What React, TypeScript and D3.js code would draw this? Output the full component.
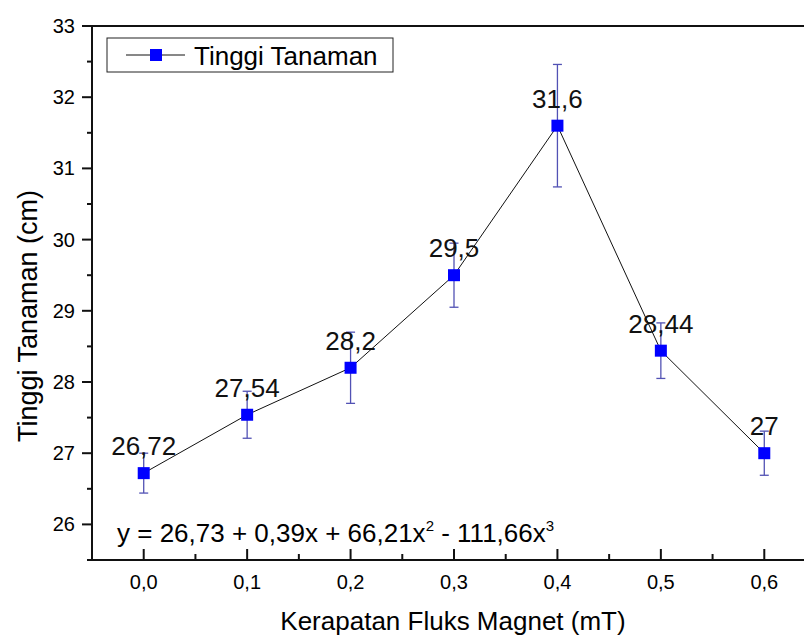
import React, { useEffect, useRef } from 'react'
import * as d3 from 'd3'

// data
const fluks = [0.0, 0.1, 0.2, 0.3, 0.4, 0.5, 0.6]
const tinggi = [26.72, 27.54, 28.2, 29.5, 31.6, 28.44, 27]
const galat = [0.28, 0.33, 0.5, 0.45, 0.86, 0.39, 0.31]
const labels = ['26,72', '27,54', '28,2', '29,5', '31,6', '28,44', '27']
const xTicks = [0, 0.1, 0.2, 0.3, 0.4, 0.5, 0.6]
const yTicks = [26, 27, 28, 29, 30, 31, 32, 33]

const W = 804
const H = 637
const font = 'Arial, "Liberation Sans", sans-serif'

export default function App() {
  const ref = useRef<SVGSVGElement>(null)

  useEffect(() => {
    const svg = d3.select(ref.current)
    svg.selectAll('*').remove()

    const x = d3.scaleLinear().domain([-0.05, 0.65]).range([92, 816])
    const y = d3.scaleLinear().domain([25.5, 33]).range([560, 26])

    const g = svg.append('g')

    // frame
    g.append('rect')
      .attr('x', x(-0.05)).attr('y', y(33))
      .attr('width', x(0.65) - x(-0.05)).attr('height', y(25.5) - y(33))
      .attr('fill', 'none').attr('stroke', '#111').attr('stroke-width', 2)

    // y ticks (outward)
    const yMinor = d3.range(25.5, 33, 0.5).filter(v => !yTicks.includes(v))
    g.selectAll('.ymaj').data(yTicks).enter().append('line')
      .attr('x1', 82).attr('x2', x(-0.05))
      .attr('y1', d => y(d)).attr('y2', d => y(d))
      .attr('stroke', '#111').attr('stroke-width', 2)
    g.selectAll('.ymin').data(yMinor).enter().append('line')
      .attr('x1', 87).attr('x2', x(-0.05))
      .attr('y1', d => y(d)).attr('y2', d => y(d))
      .attr('stroke', '#111').attr('stroke-width', 2)
    g.selectAll('.ylab').data(yTicks).enter().append('text')
      .attr('x', 75).attr('y', d => y(d) + 7)
      .attr('text-anchor', 'end')
      .attr('font-family', font).attr('font-size', 20)
      .text(d => String(d))

    // x ticks (inward)
    const xMinor = d3.range(0, 7).map(i => 0.05 + i * 0.1)
    g.selectAll('.xmaj').data(xTicks).enter().append('line')
      .attr('x1', d => x(d)).attr('x2', d => x(d))
      .attr('y1', 560).attr('y2', 549)
      .attr('stroke', '#111').attr('stroke-width', 2)
    g.selectAll('.xmin').data(xMinor).enter().append('line')
      .attr('x1', d => x(d)).attr('x2', d => x(d))
      .attr('y1', 560).attr('y2', 554)
      .attr('stroke', '#111').attr('stroke-width', 2)
    g.selectAll('.xlab').data(xTicks).enter().append('text')
      .attr('x', d => x(d)).attr('y', 589)
      .attr('text-anchor', 'middle')
      .attr('font-family', font).attr('font-size', 20)
      .text(d => d.toFixed(1).replace('.', ','))

    // axis titles
    g.append('text')
      .attr('x', 453).attr('y', 630)
      .attr('text-anchor', 'middle')
      .attr('font-family', font).attr('font-size', 26)
      .text('Kerapatan Fluks Magnet (mT)')
    g.append('text')
      .attr('transform', 'translate(37,316) rotate(-90)')
      .attr('text-anchor', 'middle')
      .attr('font-family', font).attr('font-size', 27)
      .text('Tinggi Tanaman (cm)')

    const pts = fluks.map((f, i) => ({ f, v: tinggi[i], e: galat[i], l: labels[i] }))

    // connecting line
    const line = d3.line<typeof pts[0]>().x(d => x(d.f)).y(d => y(d.v))
    g.append('path').datum(pts)
      .attr('d', line)
      .attr('fill', 'none').attr('stroke', '#111').attr('stroke-width', 1)

    // error bars
    const eb = g.selectAll('.eb').data(pts).enter().append('g')
      .attr('stroke', '#5252b4').attr('stroke-width', 1.3)
    eb.append('line')
      .attr('x1', d => x(d.f)).attr('x2', d => x(d.f))
      .attr('y1', d => y(d.v - d.e)).attr('y2', d => y(d.v + d.e))
    eb.append('line')
      .attr('x1', d => x(d.f) - 4.5).attr('x2', d => x(d.f) + 4.5)
      .attr('y1', d => y(d.v + d.e)).attr('y2', d => y(d.v + d.e))
    eb.append('line')
      .attr('x1', d => x(d.f) - 4.5).attr('x2', d => x(d.f) + 4.5)
      .attr('y1', d => y(d.v - d.e)).attr('y2', d => y(d.v - d.e))

    // markers
    g.selectAll('.mk').data(pts).enter().append('rect')
      .attr('x', d => x(d.f) - 6).attr('y', d => y(d.v) - 6)
      .attr('width', 12).attr('height', 12)
      .attr('fill', '#0000ff')

    // value labels
    g.selectAll('.vl').data(pts).enter().append('text')
      .attr('x', d => x(d.f)).attr('y', d => y(d.v) - 18)
      .attr('text-anchor', 'middle')
      .attr('font-family', font).attr('font-size', 26)
      .attr('fill', '#111')
      .text(d => d.l)

    // legend
    const lg = g.append('g')
    lg.append('rect')
      .attr('x', 107).attr('y', 38).attr('width', 286).attr('height', 34)
      .attr('fill', 'white').attr('stroke', '#222').attr('stroke-width', 1)
    lg.append('line')
      .attr('x1', 126).attr('x2', 185).attr('y1', 55).attr('y2', 55)
      .attr('stroke', '#111').attr('stroke-width', 1)
    lg.append('rect')
      .attr('x', 150).attr('y', 49).attr('width', 12).attr('height', 12)
      .attr('fill', '#0000ff')
    lg.append('text')
      .attr('x', 194).attr('y', 65)
      .attr('font-family', font).attr('font-size', 26)
      .text('Tinggi Tanaman')

    // regression equation
    const eq = g.append('text')
      .attr('x', 117).attr('y', 542)
      .attr('font-family', font).attr('font-size', 26)
    eq.append('tspan').text('y = 26,73 + 0,39x + 66,21x')
    eq.append('tspan').attr('dy', -11).attr('font-size', 15).text('2')
    eq.append('tspan').attr('dy', 11).text(' - 111,66x')
    eq.append('tspan').attr('dy', -11).attr('font-size', 15).text('3')
  }, [])

  return (
    <div style={{ position: 'fixed', top: 0, left: 0, width: W, height: H, overflow: 'hidden', background: 'white' }}>
      <svg ref={ref} width={W} height={H} style={{ display: 'block' }} />
    </div>
  )
}
